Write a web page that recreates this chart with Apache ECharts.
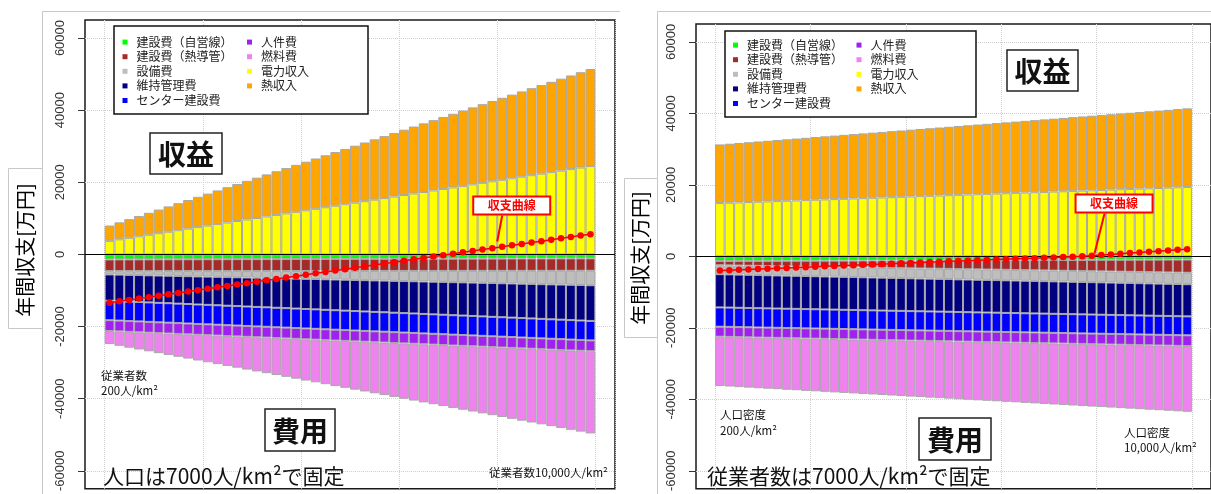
<!DOCTYPE html>
<html>
<head>
<meta charset="utf-8">
<script src="https://cdn.jsdelivr.net/npm/echarts@6/dist/echarts.min.js"></script>
<style>
html,body{margin:0;padding:0;background:#fff;}
#c{width:1211px;height:494px;}
</style>
</head>
<body>
<div id="c"></div>
<script>
// 横軸: 従業者数（左）/ 人口密度（右）[人/km²]
const xSteps = [200,400,600,800,1000,1200,1400,1600,1800,2000,2200,2400,2600,2800,3000,3200,3400,3600,3800,4000,
  4200,4400,4600,4800,5000,5200,5400,5600,5800,6000,6200,6400,6600,6800,7000,7200,7400,7600,7800,8000,
  8200,8400,8600,8800,9000,9200,9400,9600,9800,10000];
const yTicks = [-60000,-40000,-20000,0,20000,40000,60000];

// 左: 人口は7000人/km²で固定、従業者数を変化 [万円]
const L_self = [-1400,-1390,-1390,-1380,-1380,-1370,-1360,-1360,-1350,-1350,-1340,-1330,-1330,-1320,-1310,-1310,-1300,-1300,-1290,-1280,-1280,-1270,-1270,-1260,-1250,-1250,-1240,-1240,-1230,-1220,-1220,-1210,-1200,-1200,-1190,-1190,-1180,-1170,-1170,-1160,-1160,-1150,-1140,-1140,-1130,-1130,-1120,-1110,-1110,-1100];
const L_pipe = [-3250,-3250,-3260,-3260,-3270,-3270,-3270,-3280,-3280,-3290,-3290,-3290,-3300,-3300,-3310,-3310,-3310,-3320,-3320,-3330,-3330,-3330,-3340,-3340,-3350,-3350,-3350,-3360,-3360,-3370,-3370,-3370,-3380,-3380,-3390,-3390,-3390,-3400,-3400,-3410,-3410,-3410,-3420,-3420,-3430,-3430,-3430,-3440,-3440,-3450];
const L_equip = [-900,-960,-1030,-1090,-1150,-1220,-1280,-1340,-1410,-1470,-1530,-1600,-1660,-1720,-1790,-1850,-1910,-1980,-2040,-2100,-2170,-2230,-2290,-2360,-2420,-2480,-2550,-2610,-2670,-2740,-2800,-2860,-2930,-2990,-3050,-3120,-3180,-3240,-3310,-3370,-3430,-3500,-3560,-3620,-3690,-3750,-3810,-3880,-3940,-4000];
const L_maint = [-7300,-7350,-7410,-7460,-7510,-7570,-7620,-7670,-7720,-7780,-7830,-7880,-7940,-7990,-8040,-8100,-8150,-8200,-8250,-8310,-8360,-8410,-8470,-8520,-8570,-8630,-8680,-8730,-8780,-8840,-8890,-8940,-9000,-9050,-9100,-9160,-9210,-9260,-9310,-9370,-9420,-9470,-9530,-9580,-9630,-9690,-9740,-9790,-9840,-9900];
const L_center = [-5400,-5400,-5400,-5400,-5400,-5400,-5400,-5400,-5400,-5400,-5400,-5400,-5400,-5400,-5400,-5400,-5400,-5400,-5400,-5400,-5400,-5400,-5400,-5400,-5400,-5400,-5400,-5400,-5400,-5400,-5400,-5400,-5400,-5400,-5400,-5400,-5400,-5400,-5400,-5400,-5400,-5400,-5400,-5400,-5400,-5400,-5400,-5400,-5400,-5400];
const L_staff = [-3000,-3000,-3000,-3000,-3000,-3000,-3000,-3000,-3000,-3000,-3000,-3000,-3000,-3000,-3000,-3000,-3000,-3000,-3000,-3000,-3000,-3000,-3000,-3000,-3000,-3000,-3000,-3000,-3000,-3000,-3000,-3000,-3000,-3000,-3000,-3000,-3000,-3000,-3000,-3000,-3000,-3000,-3000,-3000,-3000,-3000,-3000,-3000,-3000,-3000];
const L_fuel = [-3600,-3990,-4380,-4780,-5170,-5560,-5950,-6340,-6730,-7130,-7520,-7910,-8300,-8690,-9090,-9480,-9870,-10260,-10650,-11040,-11440,-11830,-12220,-12610,-13000,-13400,-13790,-14180,-14570,-14960,-15350,-15750,-16140,-16530,-16920,-17310,-17710,-18100,-18490,-18880,-19270,-19660,-20060,-20450,-20840,-21230,-21620,-22020,-22410,-22800];
const L_power = [3750,4170,4600,5020,5440,5870,6290,6710,7140,7560,7990,8410,8830,9260,9680,10100,10530,10950,11370,11800,12220,12640,13070,13490,13910,14340,14760,15180,15610,16030,16460,16880,17300,17730,18150,18570,19000,19420,19840,20270,20690,21110,21540,21960,22380,22810,23230,23650,24080,24500];
const L_heat = [4250,4710,5170,5640,6100,6560,7020,7490,7950,8410,8870,9330,9800,10260,10720,11180,11650,12110,12570,13030,13490,13960,14420,14880,15340,15810,16270,16730,17190,17650,18120,18580,19040,19500,19970,20430,20890,21350,21810,22280,22740,23200,23660,24130,24590,25050,25510,25970,26440,26900];
const L_balance = [-13400,-13010,-12620,-12240,-11850,-11460,-11070,-10680,-10300,-9910,-9520,-9130,-8740,-8360,-7970,-7580,-7190,-6800,-6420,-6030,-5640,-5250,-4860,-4480,-4090,-3700,-3310,-2920,-2540,-2150,-1760,-1370,-980,-600,-210,180,570,960,1340,1730,2120,2510,2900,3280,3670,4060,4450,4840,5220,5600];

// 右: 従業者数は7000人/km²で固定、人口密度を変化 [万円]
const R_self = [-1300,-1290,-1280,-1280,-1270,-1260,-1250,-1240,-1230,-1230,-1220,-1210,-1200,-1190,-1190,-1180,-1170,-1160,-1150,-1140,-1140,-1130,-1120,-1110,-1100,-1100,-1090,-1080,-1070,-1060,-1050,-1050,-1040,-1030,-1020,-1010,-1000,-1000,-990,-980,-970,-960,-960,-950,-940,-930,-920,-910,-910,-900];
const R_pipe = [-1200,-1250,-1300,-1350,-1400,-1460,-1510,-1560,-1610,-1660,-1710,-1760,-1810,-1860,-1910,-1970,-2020,-2070,-2120,-2170,-2220,-2270,-2320,-2370,-2420,-2480,-2530,-2580,-2630,-2680,-2730,-2780,-2830,-2880,-2930,-2990,-3040,-3090,-3140,-3190,-3240,-3290,-3340,-3390,-3440,-3500,-3550,-3600,-3650,-3700];
const R_equip = [-2500,-2510,-2530,-2540,-2560,-2570,-2590,-2600,-2610,-2630,-2640,-2660,-2670,-2690,-2700,-2710,-2730,-2740,-2760,-2770,-2790,-2800,-2810,-2830,-2840,-2860,-2870,-2890,-2900,-2910,-2930,-2940,-2960,-2970,-2990,-3000,-3010,-3030,-3040,-3060,-3070,-3090,-3100,-3110,-3130,-3140,-3160,-3170,-3190,-3200];
const R_maint = [-9300,-9290,-9290,-9280,-9280,-9270,-9260,-9260,-9250,-9250,-9240,-9230,-9230,-9220,-9210,-9210,-9200,-9200,-9190,-9180,-9180,-9170,-9170,-9160,-9150,-9150,-9140,-9140,-9130,-9120,-9120,-9110,-9100,-9100,-9090,-9090,-9080,-9070,-9070,-9060,-9060,-9050,-9040,-9040,-9030,-9030,-9020,-9010,-9010,-9000];
const R_center = [-5400,-5400,-5400,-5400,-5400,-5390,-5390,-5390,-5390,-5390,-5380,-5380,-5380,-5380,-5380,-5370,-5370,-5370,-5370,-5370,-5360,-5360,-5360,-5360,-5360,-5350,-5350,-5350,-5350,-5350,-5340,-5340,-5340,-5340,-5340,-5330,-5330,-5330,-5330,-5330,-5320,-5320,-5320,-5320,-5320,-5310,-5310,-5310,-5300,-5300];
const R_staff = [-2800,-2800,-2810,-2810,-2820,-2820,-2820,-2830,-2830,-2840,-2840,-2840,-2850,-2850,-2860,-2860,-2860,-2870,-2870,-2880,-2880,-2880,-2890,-2890,-2900,-2900,-2900,-2910,-2910,-2920,-2920,-2920,-2930,-2930,-2940,-2940,-2940,-2950,-2950,-2960,-2960,-2960,-2970,-2970,-2980,-2980,-2980,-2990,-2990,-3000];
const R_fuel = [-13800,-13890,-13990,-14080,-14180,-14270,-14360,-14460,-14550,-14650,-14740,-14830,-14930,-15020,-15110,-15210,-15300,-15400,-15490,-15580,-15680,-15770,-15870,-15960,-16050,-16150,-16240,-16340,-16430,-16520,-16620,-16710,-16800,-16900,-16990,-17090,-17180,-17270,-17370,-17460,-17560,-17650,-17740,-17840,-17930,-18020,-18120,-18210,-18310,-18400];
const R_power = [14900,14990,15080,15180,15270,15360,15450,15540,15630,15730,15820,15910,16000,16090,16190,16280,16370,16460,16550,16640,16740,16830,16920,17010,17100,17200,17290,17380,17470,17560,17650,17750,17840,17930,18020,18110,18200,18300,18390,18480,18570,18660,18760,18850,18940,19030,19120,19210,19310,19400];
const R_heat = [16400,16510,16630,16740,16860,16970,17090,17200,17310,17430,17540,17660,17770,17890,18000,18110,18230,18340,18460,18570,18690,18800,18910,19030,19140,19260,19370,19490,19600,19710,19830,19940,20060,20170,20290,20400,20510,20630,20740,20860,20970,21090,21200,21310,21430,21540,21660,21770,21890,22000];
const R_balance = [-4000,-3890,-3780,-3680,-3570,-3460,-3350,-3240,-3140,-3030,-2920,-2810,-2700,-2600,-2490,-2380,-2270,-2160,-2060,-1950,-1840,-1730,-1620,-1520,-1410,-1310,-1210,-1110,-1010,-910,-810,-710,-610,-510,-410,-310,-210,-110,-10,170,350,540,720,900,1080,1270,1450,1630,1820,2000];

const seriesNames = ['建設費（自営線）','建設費（熱導管）','設備費','維持管理費','センター建設費','人件費','燃料費','電力収入','熱収入'];
const seriesColors = ['#00FF00','#A52A2A','#BEBEBE','#000080','#0000FF','#A020F0','#EE82EE','#FFFF00','#FFA500'];
const panels = [
  {values:[L_self,L_pipe,L_equip,L_maint,L_center,L_staff,L_fuel,L_power,L_heat], balance:L_balance},
  {values:[R_self,R_pipe,R_equip,R_maint,R_center,R_staff,R_fuel,R_power,R_heat], balance:R_balance}
];

// two empty slots on each side of the bars, like the R barplot margins
const PAD = 2;
const padData = arr => [...Array(PAD).fill(null), ...arr, ...Array(PAD).fill(null)];
const categories = [...Array(PAD).fill(0).map((_, i) => 'l' + i), ...xSteps.map(String), ...Array(PAD).fill(0).map((_, i) => 'r' + i)];

const JP = '"Noto Sans CJK JP", sans-serif';
const NUM = '"Liberation Sans", Arial, sans-serif';

const grids = [
  {left:85, top:20, width:530, height:473},
  {left:696, top:24, width:525, height:470}
];

const option = {
  animation:false,
  backgroundColor:'#fff',
  grid: grids.map(g => Object.assign({show:true, borderColor:'#1a1a1a', borderWidth:1.5, backgroundColor:'transparent', containLabel:false}, g)),
  xAxis: grids.map((g, p) => ({
    type:'category', gridIndex:p, data:categories, boundaryGap:true,
    axisLine:{show:false}, axisTick:{show:false}, axisLabel:{show:false},
    splitLine:{show:true, interval:(i) => i >= PAD && (i - PAD) % 10 === 0,
      lineStyle:{color:'#cfcfcf', type:'dotted', width:1}}
  })),
  yAxis: grids.map((g, p) => ({
    type:'value', gridIndex:p, min:-65000, max:65000,
    axisLine:{show:false},
    axisTick:{show:true, customValues:yTicks, length:7, lineStyle:{color:'#333', width:1}},
    axisLabel:{show:true, customValues:yTicks, rotate:90, margin:18, color:'#333', fontSize:13, fontFamily:NUM,
      formatter:v => String(v)},
    splitLine:{show:true, lineStyle:{color:'#cfcfcf', type:'dotted', width:1}}
  })),
  legend: [],
  series: [],
  graphic: {elements: []}
};

panels.forEach((pnl, p) => {
  pnl.values.forEach((vals, k) => {
    option.series.push({
      type:'bar', name:seriesNames[k], xAxisIndex:p, yAxisIndex:p, stack:'s' + p,
      data:padData(vals), barCategoryGap:'0%',
      itemStyle:{color:seriesColors[k], borderColor:'#a8a8a8', borderWidth:1},
      emphasis:{disabled:true}, silent:true
    });
  });
  option.series.push({
    type:'line', name:'収支曲線', xAxisIndex:p, yAxisIndex:p, data:padData(pnl.balance),
    symbol:'circle', symbolSize:6.5, showSymbol:true, showAllSymbol:true, z:5,
    itemStyle:{color:'#ff0000'}, lineStyle:{color:'#ff0000', width:1.5},
    emphasis:{disabled:true}, silent:true,
    markLine:{silent:true, symbol:['none','none'], label:{show:false}, z:4,
      lineStyle:{color:'#000', width:1, type:'solid'}, data:[{yAxis:0}]}
  });
});

// legends: two columns per panel
const legendCols = [
  {left:122.5, top:34.8, items:seriesNames.slice(0,5)},
  {left:247, top:34.8, items:seriesNames.slice(5)},
  {left:733, top:37.8, items:seriesNames.slice(0,5)},
  {left:856.5, top:37.8, items:seriesNames.slice(5)}
];
legendCols.forEach(c => option.legend.push({
  data:c.items, left:c.left, top:c.top, orient:'vertical', icon:'rect',
  itemWidth:5, itemHeight:5, itemGap:0, padding:0, z:12, selectedMode:false,
  itemStyle:{borderWidth:0},
  textStyle:{fontSize:12, lineHeight:14.6, color:'#222', fontFamily:JP, padding:[0,0,0,4]}
}));

const G = option.graphic.elements;
const rect = (x, y, w, h, stroke, lw, fill, z) => G.push({type:'rect', z:z, shape:{x, y, width:w, height:h},
  style:{fill:fill || 'none', stroke, lineWidth:lw}});
const text = (x, y, str, size, opt) => G.push(Object.assign({type:'text', z:13, x, y,
  style:Object.assign({text:str, fontSize:size, fontFamily:JP, fill:'#111', textAlign:'left', textVerticalAlign:'middle'}, (opt && opt.style) || {})},
  opt && opt.el || {}));

// panel frames
G.push({type:'polyline', z:1, shape:{points:[[42.5,494],[42.5,11.5],[620,11.5]]}, style:{stroke:'#c8c8c8', lineWidth:1, fill:'none'}});
G.push({type:'polyline', z:1, shape:{points:[[657.5,494],[657.5,11.5],[1211,11.5]]}, style:{stroke:'#c8c8c8', lineWidth:1, fill:'none'}});
rect(8.5, 168.5, 34, 160, '#c8c8c8', 1, '#fff', 2);
rect(624.5, 178.5, 33, 159, '#c8c8c8', 1, '#fff', 2);
text(25, 250, '年間収支[万円]', 20, {el:{rotation:Math.PI / 2}, style:{textAlign:'center', fill:'#000'}});
text(640, 258, '年間収支[万円]', 20, {el:{rotation:Math.PI / 2}, style:{textAlign:'center', fill:'#000'}});

// legend boxes
rect(114, 26, 254, 88, '#111', 1.5, '#fff', 11);
rect(725, 31, 251, 86, '#111', 1.5, '#fff', 11);

// headline boxes
const headBox = (x, y, w, h, str) => {
  rect(x, y, w, h, '#222', 1.5, '#fff', 11);
  text(x + w / 2, y + h / 2 + 1, str, 28, {style:{textAlign:'center', fontWeight:'bold', fill:'#111'}});
};
headBox(150, 133, 72, 41, '収益');
headBox(265, 409, 70, 42, '費用');
headBox(1007, 50, 71, 41, '収益');
headBox(919, 418, 72, 42, '費用');

// footnotes
text(103, 476, '人口は7000人/km²で固定', 21);
text(707, 476, '従業者数は7000人/km²で固定', 21);
text(101, 376, '従業者数', 11.5);
text(101, 391, '200人/km²', 11.5);
text(489, 473, '従業者数10,000人/km²', 11.5);
text(720, 415, '人口密度', 11.5);
text(720, 431, '200人/km²', 11.5);
text(1124, 433, '人口密度', 11.5);
text(1124, 448, '10,000人/km²', 11.5);

const chart = echarts.init(document.getElementById('c'), null, {renderer:'canvas'});
chart.setOption(option);

// callout for the balance curve, anchored between two of its points
function callout(p, i, dx, dy, bx, by) {
  const bal = panels[p].balance;
  const a = chart.convertToPixel({xAxisIndex:p, yAxisIndex:p}, [PAD + i, bal[i]]);
  const b = chart.convertToPixel({xAxisIndex:p, yAxisIndex:p}, [PAD + i + 1, bal[i + 1]]);
  const tip = [(a[0] + b[0]) / 2 + dx, (a[1] + b[1]) / 2 + dy];
  const base = [tip[0] + bx, tip[1] + by];
  return [
    {type:'line', z:14, shape:{x1:tip[0], y1:tip[1], x2:base[0], y2:base[1]}, style:{stroke:'#ff0000', lineWidth:2}},
    {type:'rect', z:14, shape:{x:base[0] - 29, y:base[1] - 19, width:77, height:18}, style:{fill:'#fff', stroke:'#ff0000', lineWidth:2}},
    {type:'text', z:15, x:base[0] + 9.5, y:base[1] - 10, style:{text:'収支曲線', fontSize:12, fontWeight:'bold', fontFamily:JP, fill:'#ff0000', textAlign:'center', textVerticalAlign:'middle'}}
  ];
}
const extra = [...callout(0, 39, 0, -6, 5, -26), ...callout(1, 39, -2, -2, 10, -40)];
chart.setOption({graphic:{elements:[...G, ...extra]}});
</script>
</body>
</html>
